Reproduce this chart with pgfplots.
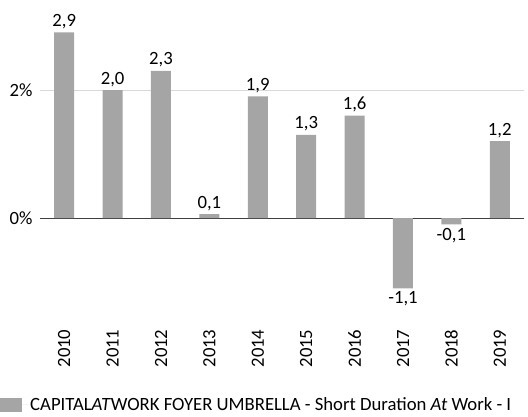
\documentclass[border=0pt]{standalone}
\usepackage{pgfplots}
\pgfplotsset{compat=1.18}
\usepackage{fontspec}
\setmainfont{Carlito}
\definecolor{barc}{HTML}{A5A5A5}
\definecolor{gridc}{HTML}{D9D9D9}
\begin{document}
\begin{tikzpicture}
\path[use as bounding box] (0,0) rectangle (528pt,416pt);
\begin{axis}[
  at={(40pt,102pt)}, anchor=south west,
  scale only axis, width=484pt, height=307.2pt,
  xmin=-0.5, xmax=9.5, ymin=-1.5, ymax=3.3,
  font=\fontsize{18.7}{22}\selectfont,
  /pgf/number format/assume math mode=true,
  axis line style={draw=none},
  major tick length=0pt,
  ybar, bar width=20pt,
  xtick=data,
  xticklabels={2010,2011,2012,2013,2014,2015,2016,2017,2018,2019},
  xticklabel style={yshift=-12pt, rotate=90, anchor=east},
  ytick={2}, yticklabels={2\%},
  extra y ticks={0}, extra y tick labels={0\%},
  extra y tick style={grid style={draw=black!75, line width=1pt}},
  ymajorgrids, grid style={draw=gridc, line width=1pt},
  yticklabel style={xshift=-4pt},
  nodes near coords,
  every node near coord/.append style={font=\fontsize{18.7}{22}\selectfont, text=black},
  nodes near coords style={/pgf/number format/.cd, fixed, fixed zerofill, precision=1, use comma, assume math mode=true},
  legend style={at={(axis description cs:-0.0826,-0.296)}, anchor=west, draw=none, fill=none, inner sep=0pt, font=\fontsize{18.7}{22}\selectfont, legend cell align=left},
  legend image code/.code={\fill[barc] (0pt,-7pt) rectangle (22pt,7pt); \path (0pt,0pt) -- (28pt,0pt);},
  clip=false,
]
\addplot[fill=barc, draw=none] coordinates {
(0,2.9) (1,2.0) (2,2.3) (3,0.06) (4,1.9) (5,1.3) (6,1.6) (7,-1.1) (8,-0.1) (9,1.2)};
\addlegendentry{CAPITAL\textit{AT}WORK FOYER UMBRELLA - Short Duration \textit{At} Work - I}
\end{axis}
\end{tikzpicture}
\end{document}
